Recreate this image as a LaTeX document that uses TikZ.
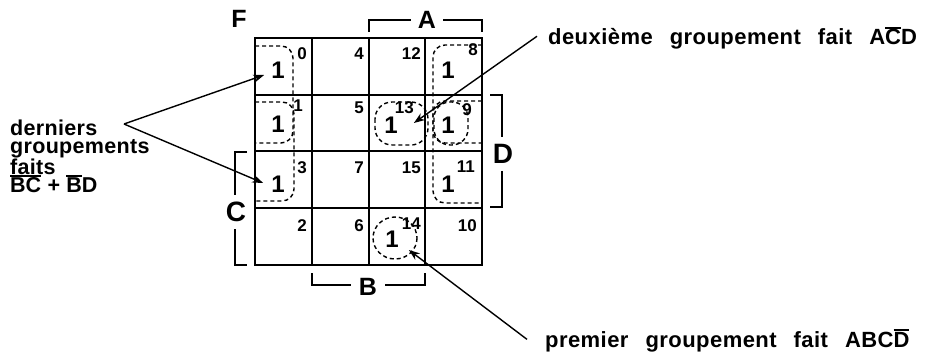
\documentclass[tikz,border=0pt]{standalone}
\usepackage{fontspec}
\setmainfont{Liberation Sans}
\newfontfamily\notefont{Liberation Sans}[UprightFont={* Bold}, LetterSpace=2, WordSpace=2.6]
\usetikzlibrary{arrows.meta}
% letter with a bar over it (complement); the bar does not add to the line height
\newsavebox\obbox
\newcommand\ob[1]{\leavevmode\sbox\obbox{#1}\smash{\rlap{\raisebox{\dimexpr\ht\obbox+0.7pt\relax}{\rule{\wd\obbox}{1.8pt}}}}\usebox\obbox}

\begin{document}
\begin{tikzpicture}[x=1pt,y=-1pt,
  grid/.style={line width=2pt},
  brk/.style={line width=1.8pt},
  grp/.style={line width=1.4pt, dash pattern=on 4pt off 3pt},
  one/.style={font=\bfseries\fontsize{24}{24}\selectfont, inner sep=0pt},
  idx/.style={font=\bfseries\fontsize{17}{17}\selectfont, inner sep=0pt, anchor=east},
  var/.style={font=\bfseries\fontsize{25}{25}\selectfont, inner sep=0pt},
  bigvar/.style={font=\bfseries\fontsize{28}{28}\selectfont, inner sep=0pt},
  note/.style={font=\notefont\fontsize{22}{22}\selectfont, inner sep=0pt, anchor=base west},
  side/.style={font=\bfseries\fontsize{21.5}{17.9}\selectfont\addfontfeatures{LetterSpace=1.5}, inner sep=0pt, align=left, anchor=north west},
  arr/.style={line width=1.4pt, -{Stealth[length=11pt,width=8pt]}}
]
\useasboundingbox (0,0) rectangle (925,358);

% Karnaugh grid
\draw[grid] (255,38) rectangle (482,265);
\foreach \x in {311.75,368.5,425.25} \draw[grid] (\x,38) -- (\x,265);
\foreach \y in {94.75,151.5,208.25} \draw[grid] (255,\y) -- (482,\y);

% cell indices
\node[idx] (n0)  at (307,54) {0};
\node[idx] (n4)  at (364,54) {4};
\node[idx] (n12) at (421,54) {12};
\node[idx] (n8)  at (478,50) {8};
\node[idx] (n1)  at (303,106) {1};
\node[idx] (n5)  at (364,108) {5};
\node[idx] (n13) at (414,108) {13};
\node[idx] (n9)  at (472,110) {9};
\node[idx] (n3)  at (307,168) {3};
\node[idx] (n7)  at (364,168) {7};
\node[idx] (n15) at (421,168) {15};
\node[idx] (n11) at (475,167) {11};
\node[idx] (n2)  at (307,226) {2};
\node[idx] (n6)  at (364,226) {6};
\node[idx] (n14) at (421,224) {14};
\node[idx] (n10) at (477,226) {10};

% ones
\node[one] (one0)  at (278,70)  {1};
\node[one] (one1)  at (278,124) {1};
\node[one] (one3)  at (278,184) {1};
\node[one] (one8)  at (448,70)  {1};
\node[one] (one13) at (391,125) {1};
\node[one] (one9)  at (448,125) {1};
\node[one] (one11) at (448,184) {1};
\node[one] (one14) at (392,239) {1};

% groupings
\draw[grp,rounded corners=12pt] (255,46) -- (293,46) -- (293,143) -- (255,143);
\draw[grp,rounded corners=12pt] (255,102) -- (294,102) -- (294,201) -- (255,201);
\draw[grp,rounded corners=12pt] (482,45) -- (433,45) -- (433,143) -- (482,143);
\draw[grp,rounded corners=12pt] (482,101) -- (433,101) -- (433,203) -- (482,203);
\draw[grp,rounded corners=17pt] (375,102) rectangle (428,145);
\draw[grp,rounded corners=16pt] (434,102) rectangle (468,145);
\draw[grp] (395,238) ellipse [x radius=22, y radius=21];

% variable brackets
\node[var] (lblF) at (239,19) {F};
\node[var] (lblA) at (427,20) {A};
\draw[brk] (369,32) -- (369,20) -- (411,20);
\draw[brk] (443,20) -- (482,20) -- (482,32);
\node[bigvar] (lblD) at (503,154) {D};
\draw[brk] (490,95) -- (502,95) -- (502,137);
\draw[brk] (502,171) -- (502,207) -- (490,207);
\node[bigvar] (lblC) at (236,212) {C};
\draw[brk] (247,152) -- (235,152) -- (235,195);
\draw[brk] (235,229) -- (235,265) -- (247,265);
\node[var] (lblB) at (368,287) {B};
\draw[brk] (312,273) -- (312,285) -- (351,285);
\draw[brk] (385,285) -- (425,285) -- (425,273);

% annotations
\node[side] (s1) at (10,120) {derniers\\groupements\\faits\\\ob{B}\ob{C} + \ob{B}D};
\node[note] (t2) at (548,45) {deuxième groupement fait A\ob{C}D};
\node[note] (t1) at (545,347) {premier groupement fait ABC\ob{D}};

% arrows
\coordinate (v) at (124,124);
\draw[arr] (v) -- ([shift={(-7,5)}]one0.west);
\draw[arr] (v) -- ([shift={(-8,-1)}]one3.west);
\draw[arr] ([shift={(-11,-3)}]t2.west) -- ([shift={(16,-2)}]one13.east);
\draw[arr] ([shift={(-18,-2)}]t1.west) -- ([shift={(10,11)}]one14.east);
\end{tikzpicture}
\end{document}
